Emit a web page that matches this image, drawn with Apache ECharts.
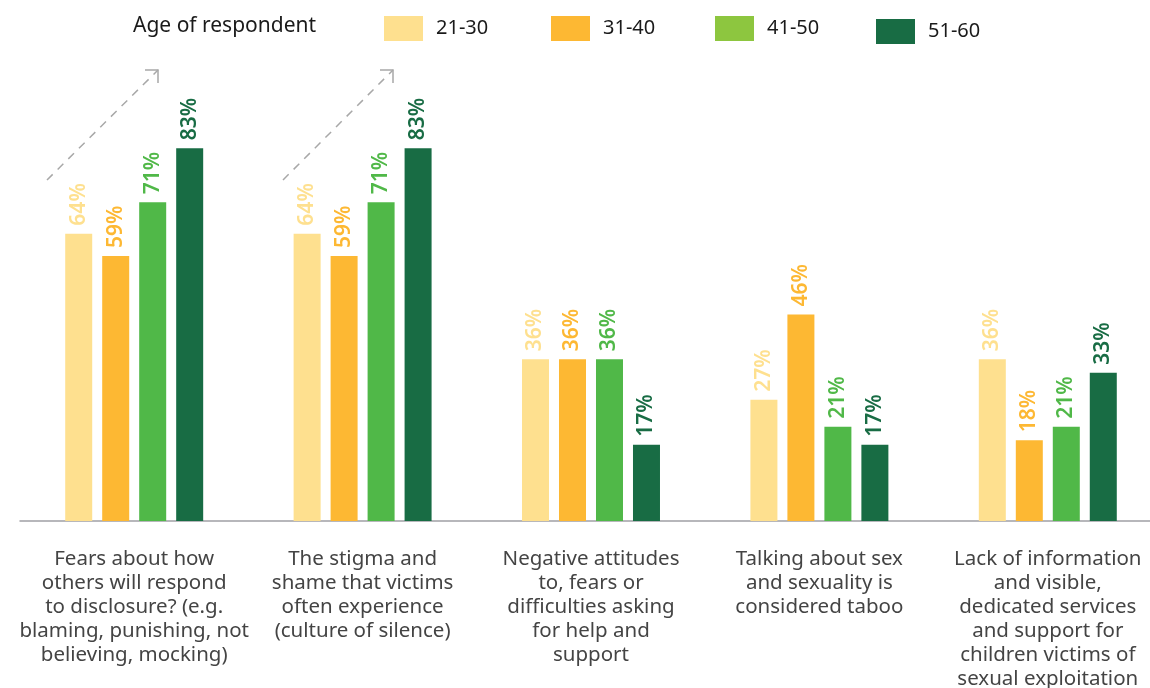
<!DOCTYPE html>
<html>
<head>
<meta charset="utf-8">
<script src="https://cdn.jsdelivr.net/npm/echarts@6/dist/echarts.min.js"></script>
<style>
html,body{margin:0;padding:0;background:#fff;}
#chart{width:1150px;height:688px;}
</style>
</head>
<body>
<div id="chart"></div>
<script>
const categories = [
  "Fears about how\nothers will respond\nto disclosure? (e.g.\nblaming, punishing, not\nbelieving, mocking)",
  "The stigma and\nshame that victims\noften experience\n(culture of silence)",
  "Negative attitudes\nto, fears or\ndifficulties asking\nfor help and\nsupport",
  "Talking about sex\nand sexuality is\nconsidered taboo",
  "Lack of information\nand visible,\ndedicated services\nand support for\nchildren victims of\nsexual exploitation"
];
const seriesNames = ["21-30", "31-40", "41-50", "51-60"];
const age21_30 = [64, 64, 36, 27, 36];
const age31_40 = [59, 59, 36, 46, 18];
const age41_50 = [71, 71, 36, 21, 21];
const age51_60 = [83, 83, 17, 17, 33];
const legendTitle = "Age of respondent";

const barColors = ["#FEE08F", "#FDB833", "#50B848", "#186C44"];
const legendColors = ["#FEE08F", "#FDB833", "#8DC63F", "#186C44"];
const allValues = [age21_30, age31_40, age41_50, age51_60];

const chart = echarts.init(document.getElementById('chart'));

const legendPos = [{left: 384, top: 16}, {left: 551, top: 16}, {left: 715, top: 16}, {left: 876, top: 19}];
const legends = seriesNames.map((n, i) => ({
  data: [{name: n, itemStyle: {color: legendColors[i]}}],
  left: legendPos[i].left,
  top: legendPos[i].top,
  padding: 0,
  itemWidth: 39,
  itemHeight: 25,
  icon: 'rect',
  selectedMode: false,
  textStyle: {fontFamily: 'Noto Sans', fontSize: 20, color: '#1a1a1a', padding: [0, 0, 0, 8]}
}));

const series = seriesNames.map((n, i) => ({
  name: n,
  type: 'bar',
  data: allValues[i],
  barWidth: 27,
  barGap: '37%',
  itemStyle: {color: barColors[i]},
  label: {
    show: true,
    position: 'top',
    distance: 8,
    rotate: 90,
    align: 'left',
    verticalAlign: 'middle',
    formatter: '{c}%',
    color: barColors[i],
    fontFamily: 'Noto Sans',
    fontSize: 21,
    fontWeight: 600
  }
}));

function arrow(x1, y1, x2, y2) {
  return [
    {type: 'line', shape: {x1: x1, y1: y1, x2: x2, y2: y2},
     style: {stroke: '#a8a8a8', lineWidth: 1.5, lineDash: [8, 7]}},
    {type: 'polyline', shape: {points: [[x2 - 13, y2], [x2, y2], [x2, y2 + 13]]},
     style: {stroke: '#a8a8a8', lineWidth: 1.5, fill: null}}
  ];
}

chart.setOption({
  animation: false,
  title: {
    text: legendTitle,
    left: 133,
    top: 16,
    padding: 0,
    textStyle: {fontFamily: 'Noto Sans', fontSize: 21, fontWeight: 'normal', color: '#1a1a1a'}
  },
  legend: legends,
  grid: {left: 20, width: 1142, top: 72, bottom: 167, outerBoundsMode: 'none', containLabel: false},
  xAxis: {
    type: 'category',
    data: categories,
    axisLine: {lineStyle: {color: '#a0a0a5', width: 1.5}},
    axisTick: {show: false},
    axisLabel: {
      interval: 0,
      margin: 26,
      fontFamily: 'Noto Sans',
      fontSize: 20.5,
      lineHeight: 24,
      color: '#444444',
      align: 'center',
      hideOverlap: false
    }
  },
  yAxis: {type: 'value', min: 0, max: 100, show: false, splitLine: {show: false}},
  graphic: [].concat(arrow(47, 180, 158, 70), arrow(283, 180, 393, 70)),
  series: series
});
</script>
</body>
</html>
